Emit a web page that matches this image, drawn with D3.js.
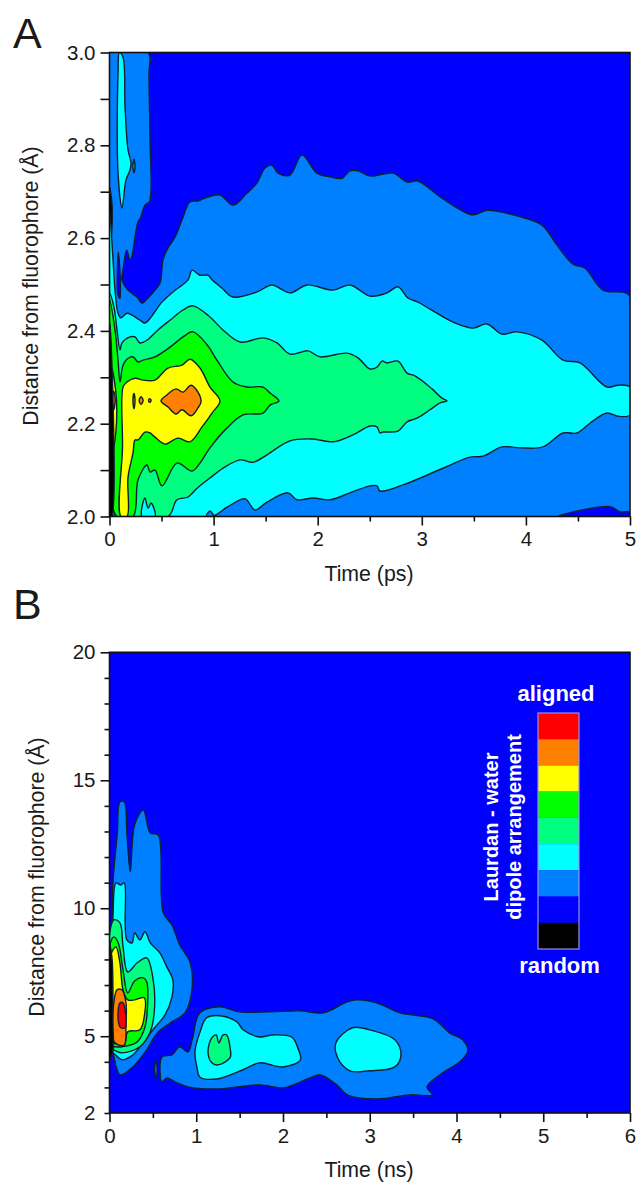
<!DOCTYPE html>
<html>
<head>
<meta charset="utf-8">
<script src="https://cdn.jsdelivr.net/npm/d3@7"></script>
<style>
body { margin: 0; background: #fff; }
text { font-family: "Liberation Sans", Arial, sans-serif; fill: #1a1a1a; }
</style>
</head>
<body>
<div id="chart"></div>
<script>
// colour levels, lowest first
var levels = ['#000000', '#0000ff', '#0080ff', '#00ffff', '#00ff80', '#00ff00', '#ffff00', '#ff8000', '#ff0000']

// panel A contours, [time ps, distance A]
var aBlue = [[0,3],[.37,3],[.379,2.951],[.389,2.811],[.399,2.704],[.382,2.678],[.341,2.671],[.3,2.645],[.274,2.635],[.245,2.602],[.213,2.559],[.197,2.553],[.165,2.574],[.13,2.531],[.12,2.51],[.178,2.488],[.264,2.473],[.312,2.46],[.37,2.471],[.437,2.488],[.485,2.503],[.514,2.553],[.562,2.579],[.629,2.602],[.696,2.639],[.773,2.678],[.85,2.68],[.937,2.688],[1.061,2.693],[1.186,2.671],[1.321,2.697],[1.417,2.719],[1.494,2.751],[1.561,2.757],[1.619,2.74],[1.734,2.736],[1.849,2.779],[1.993,2.74],[2.118,2.732],[2.233,2.729],[2.31,2.745],[2.387,2.745],[2.502,2.734],[2.723,2.74],[2.858,2.721],[2.963,2.723],[3.194,2.686],[3.492,2.65],[3.626,2.66],[3.914,2.648],[4.154,2.628],[4.298,2.585],[4.452,2.544],[4.567,2.535],[4.74,2.488],[5,2.475],[5,2],[0,2]]
var aCorner = [[4.308,2],[4.808,2.021],[4.904,2.01],[5,2.01],[5,2]]
var aSliver = [[.085,2.57],[.105,2.5],[.1,2.47],[.08,2.48],[.075,2.52]]
var aCyan = [[0,2.66],[.034,2.553],[.053,2.488],[.082,2.438],[.11,2.428],[.168,2.438],[.293,2.423],[.341,2.417],[.504,2.462],[.61,2.484],[.754,2.51],[.793,2.531],[.869,2.52],[.946,2.52],[.985,2.51],[1.081,2.492],[1.186,2.473],[1.417,2.484],[1.561,2.499],[1.734,2.482],[1.897,2.499],[2.147,2.488],[2.31,2.499],[2.502,2.475],[2.666,2.482],[2.771,2.495],[2.867,2.471],[2.963,2.462],[3.079,2.447],[3.3,2.419],[3.492,2.406],[3.626,2.415],[3.77,2.393],[3.914,2.398],[4.154,2.38],[4.356,2.337],[4.519,2.331],[4.779,2.279],[4.885,2.283],[5,2.279],[5,2.219],[4.885,2.216],[4.779,2.223],[4.615,2.201],[4.49,2.18],[4.356,2.18],[4.164,2.15],[3.943,2.148],[3.77,2.15],[3.588,2.13],[3.463,2.128],[3.203,2.104],[2.819,2.068],[2.598,2.055],[2.57,2.066],[2.502,2.066],[2.31,2.051],[2.118,2.036],[1.955,2.04],[1.801,2.036],[1.715,2.051],[1.513,2.031],[1.398,2.014],[1.302,2.038],[1.129,2.02],[.985,2],[0,2]]
var aBump = [[.93,2],[.965,2.012],[1,2]]
var aSpring = [[0,2.482],[.043,2.451],[.072,2.402],[.101,2.359],[.12,2.374],[.197,2.387],[.245,2.387],[.293,2.374],[.36,2.38],[.466,2.402],[.581,2.423],[.706,2.445],[.802,2.454],[.965,2.43],[1.09,2.402],[1.254,2.376],[1.475,2.385],[1.609,2.374],[1.734,2.35],[1.907,2.357],[2.022,2.344],[2.281,2.352],[2.387,2.342],[2.502,2.318],[2.57,2.322],[2.618,2.335],[2.666,2.331],[2.771,2.335],[2.858,2.309],[2.935,2.303],[3.098,2.275],[3.194,2.255],[3.242,2.249],[3.175,2.245],[3.079,2.23],[2.954,2.212],[2.858,2.204],[2.771,2.184],[2.627,2.182],[2.598,2.18],[2.57,2.193],[2.502,2.195],[2.339,2.176],[2.147,2.161],[1.955,2.167],[1.734,2.163],[1.513,2.133],[1.379,2.117],[1.254,2.122],[1.09,2.104],[.965,2.083],[.841,2.061],[.754,2.042],[.648,2.036],[.562,2],[.062,2],[0,2.2]]
var aCyanFoot = [[.312,2],[.341,2.04],[.37,2.018],[.399,2.029],[.437,2]]
var aCyanEdge = [[.035,2.12],[.06,2.06],[.07,2],[.03,2]]
var aBlueEdge = [[.04,2.05],[.05,2],[.035,2]]
var aGreen = [[0,2.467],[.053,2.402],[.082,2.337],[.101,2.29],[.13,2.326],[.178,2.341],[.226,2.344],[.274,2.333],[.322,2.337],[.437,2.344],[.581,2.365],[.706,2.387],[.802,2.398],[.937,2.37],[1.032,2.337],[1.186,2.29],[1.321,2.279],[1.475,2.279],[1.542,2.266],[1.628,2.249],[1.542,2.24],[1.475,2.223],[1.283,2.219],[1.129,2.191],[.965,2.148],[.869,2.115],[.793,2.098],[.648,2.115],[.504,2.066],[.437,2.1],[.389,2.096],[.36,2.111],[.274,2.079],[.226,2],[.072,2],[0,2.2]]
var aYellow = [[.13,2.279],[.168,2.29],[.245,2.298],[.322,2.294],[.437,2.294],[.562,2.32],[.696,2.326],[.773,2.339],[.869,2.32],[.965,2.279],[1.061,2.249],[.985,2.223],[.889,2.193],[.773,2.161],[.658,2.169],[.533,2.156],[.437,2.171],[.389,2.18],[.341,2.182],[.274,2.165],[.245,2.165],[.226,2.137],[.178,2.085],[.168,2],[.11,2],[.125,2.15]]
var aYellowEdge = [[.02,2.32],[.06,2.27],[.07,2.23],[.06,2.18],[.03,2.14],[.01,2.2]]
var aOrange = [[.495,2.249],[.552,2.262],[.639,2.275],[.706,2.268],[.783,2.283],[.85,2.268],[.879,2.247],[.85,2.234],[.783,2.217],[.696,2.23],[.639,2.221],[.562,2.236]]
var aOrangeEdge = [[.04,2.27],[.055,2.25],[.04,2.23],[.025,2.25]]
var aDot1 = [[.235,2.265],[.245,2.25],[.235,2.232],[.225,2.25]]
var aDot2 = [[.303,2.258],[.323,2.25],[.303,2.242],[.285,2.25]]
var aDot3 = [[.385,2.254],[.4,2.25],[.385,2.246],[.375,2.25]]
var aSpike = [[.095,3],[.13,2.99],[.149,2.883],[.178,2.79],[.207,2.762],[.197,2.747],[.158,2.725],[.12,2.665],[.082,2.74],[.082,2.956]]
var aSpikeDot = [[.235,2.77],[.245,2.755],[.235,2.74],[.225,2.755]]
var aDarkTop = [[0,2.71],[.025,2.67],[.015,2.6],[0,2.62]]
var aDarkEdge = [[0,2.42],[.02,2.35],[.02,2],[0,2]]

// panel B contours, [time ns, distance A]
var bBlue = [[.025,4.47],[.12,3.49],[.27,3.8],[.43,4.47],[.55,5.13],[.72,5.56],[.87,5.91],[.95,6.81],[.93,7.87],[.81,8.57],[.72,9.35],[.62,9.82],[.56,12.87],[.47,12.94],[.39,13.84],[.29,13.26],[.24,11.42],[.2,12.94],[.17,14.15],[.12,14.15],[.09,12.94],[.04,10.99],[.02,8.1],[0,8.1],[0,4.47]]
var bCyan = [[.04,4.35],[.144,4.08],[.27,4.27],[.41,4.86],[.52,5.33],[.64,5.83],[.72,6.54],[.73,7.2],[.66,7.71],[.58,8.26],[.47,8.65],[.41,9.08],[.35,8.76],[.29,9.04],[.26,8.65],[.2,8.76],[.17,10.99],[.13,10.91],[.075,10.99],[.04,9.66],[.02,8.1],[0,8.1],[0,4.35]]
var bSpring = [[.04,4.47],[.144,4.35],[.35,4.59],[.47,5.17],[.52,6.15],[.5,7.28],[.43,8.06],[.32,7.87],[.21,7.51],[.156,8.49],[.12,9.43],[.05,9.55],[0,9],[0,4.47]]
var bGreen = [[.04,4.59],[.144,4.59],[.32,4.78],[.41,5.37],[.44,6.3],[.43,7.12],[.39,7.28],[.29,7.16],[.21,6.69],[.156,7.59],[.1,8.65],[.05,8.88],[0,8.5],[0,4.6]]
var bYellow = [[.04,4.74],[.17,4.66],[.21,5.17],[.35,5.25],[.4,5.76],[.4,6.5],[.29,6.42],[.21,6.42],[.156,6.81],[.12,7.87],[.075,8.49],[.04,8.37],[0,8],[0,4.8]]
var bOrange = [[.1,4.66],[.17,4.66],[.19,5.52],[.19,6.3],[.144,6.81],[.086,6.81],[.05,6.3],[.03,5.52],[.04,4.86]]
var bRed = [[.12,6.3],[.156,6.3],[.19,5.52],[.18,5.33],[.13,5.33],[.1,5.63]]
var bDarkEdge = [[0,8.6],[.03,8],[.04,5.5],[.04,4.4],[0,4.1]]
var bBlue2 = [[.605,4.19],[.72,4.27],[.81,4.59],[.905,4.39],[.96,4.97],[1.04,5.91],[1.27,6.15],[1.5,5.95],[1.82,5.95],[2.2,5.99],[2.46,5.91],[2.74,6.34],[2.85,6.42],[3.08,6.3],[3.35,5.91],[3.73,5.68],[3.92,5.13],[4.07,4.86],[4.13,4.43],[4.04,4],[3.84,3.57],[3.66,3.02],[3.72,2.71],[3.46,2.71],[3.08,2.55],[2.74,2.71],[2.62,3.1],[2.43,3.49],[2.31,3.37],[2.12,3.1],[2,2.98],[1.73,3.1],[1.24,2.94],[.905,3.02],[.755,3.22],[.66,3.37],[.605,3.22]]
var bSliver = [[.535,4.05],[.55,3.7],[.535,3.35],[.52,3.7]]
var bCyan2 = [[1.04,3.41],[1.24,3.33],[1.54,3.69],[1.73,3.96],[2,3.8],[2.2,4.08],[2.17,4.55],[2.1,4.97],[1.88,5.05],[1.73,4.97],[1.54,5.25],[1.47,5.56],[1.27,5.8],[1.12,5.72],[1.04,5.13],[.985,4.39],[1.01,3.76]]
var bSpring2 = [[1.18,3.96],[1.25,3.88],[1.39,4.16],[1.39,4.55],[1.35,5.05],[1.31,5.05],[1.26,4.74],[1.23,5.05],[1.18,4.94],[1.135,4.39]]
var bCyan3 = [[2.8,5.33],[3,5.25],[3.29,4.86],[3.36,4.27],[3.29,3.8],[3,3.65],[2.77,3.65],[2.63,4.16],[2.61,4.74]]

// tick values
var aTimeMajor = [0, 1, 2, 3, 4, 5]
var aTimeMinor = [.5, 1.5, 2.5, 3.5, 4.5]
var aDistMajor = [2.0, 2.2, 2.4, 2.6, 2.8, 3.0]
var aDistMinor = [2.1, 2.3, 2.5, 2.7, 2.9]
var bTimeMajor = [0, 1, 2, 3, 4, 5, 6]
var bTimeMinor = [.5, 1.5, 2.5, 3.5, 4.5, 5.5]
var bDistMajor = [5, 10, 15, 20]
var bDistMinor = [2, 3, 4, 6, 7, 8, 9, 11, 12, 13, 14, 16, 17, 18, 19]

var legendLabels = d3.range(levels.length).reverse()

var w = 637, h = 1185
var svg = d3.select('#chart').append('svg')
    .attr('width', w)
    .attr('height', h)
    .style('display', 'block')

function panel(id, top, bottom, xdom, ydom, t, shapes, ticks, label, labelY, xlabel, ylabelX, ylabelY) {
    var x = d3.scaleLinear().domain(xdom).range([109.5, 630])
    var y = d3.scaleLinear().domain(ydom).range([bottom, top])
    var line = d3.line().x(d => x(d[0])).y(d => y(d[1])).curve(d3.curveCatmullRomClosed.alpha(0.5))

    svg.append('clipPath').attr('id', id)
        .append('rect')
        .attr('x', 109.5).attr('y', top)
        .attr('width', 520.5).attr('height', bottom - top)

    var g = svg.append('g')
    g.append('rect')
        .attr('x', 109.5).attr('y', top)
        .attr('width', 520.5).attr('height', bottom - top)
        .attr('fill', levels[1])

    g.append('g').attr('clip-path', `url(#${id})`)
        .selectAll('path')
        .data(shapes)
        .enter()
        .append('path')
        .attr('d', d => line(d[0]))
        .attr('fill', d => levels[d[1]])
        .attr('stroke', '#0c2030')
        .attr('stroke-width', 1.4)
        .attr('stroke-linejoin', 'round')

    // frame
    g.append('rect')
        .attr('x', 109.5).attr('y', top)
        .attr('width', 520.5).attr('height', bottom - top)
        .attr('fill', 'none')
        .attr('stroke', '#111')
        .attr('stroke-width', 1.6)

    // axis
    var axes = [
        [d3.axisBottom(x).tickValues(ticks[0]).tickSize(9).tickPadding(6).tickFormat(d3.format('d')), `translate(0,${bottom})`],
        [d3.axisBottom(x).tickValues(ticks[1]).tickSize(5).tickFormat(''), `translate(0,${bottom})`],
        [d3.axisLeft(y).tickValues(ticks[2]).tickSize(ticks[4]).tickPadding(5).tickFormat(t), 'translate(109.5,0)'],
        [d3.axisLeft(y).tickValues(ticks[3]).tickSize(ticks[5]).tickPadding(14 - ticks[5]).tickFormat(d => ticks[6].includes(d) ? d : ''), 'translate(109.5,0)']
    ]
    axes.forEach(a => {
        var ag = svg.append('g').attr('transform', a[1]).call(a[0])
        ag.select('.domain').remove()
        ag.selectAll('line').attr('stroke', '#111').attr('stroke-width', 1.6)
        ag.selectAll('text').style('font-size', '20.5px').attr('fill', '#1a1a1a')
    })

    svg.append('text').text(label)
        .attr('x', 13).attr('y', labelY)
        .style('font-size', '43px')

    svg.append('text').text(xlabel)
        .attr('x', 369).attr('y', bottom + 64)
        .attr('text-anchor', 'middle')
        .style('font-size', '21.3px')

    svg.append('text').text('Distance from fluorophore (\u00c5)')
        .attr('transform', `translate(${ylabelX},${ylabelY}) rotate(-90)`)
        .attr('text-anchor', 'middle')
        .style('font-size', '21.3px')
}

panel('clipa', 52.5, 516.5, [0, 5], [2, 3], d3.format('.1f'), [
    [aBlue, 2], [aCorner, 1], [aSliver, 1], [aSpike, 3], [aSpikeDot, 3], [aDarkTop, 0],
    [aCyan, 3], [aBump, 2], [aSpring, 4], [aCyanFoot, 3], [aCyanEdge, 3], [aBlueEdge, 2],
    [aGreen, 5], [aYellow, 6], [aYellowEdge, 6], [aOrange, 7], [aOrangeEdge, 7],
    [aDot1, 7], [aDot2, 7], [aDot3, 7], [aDarkEdge, 0]
], [aTimeMajor, aTimeMinor, aDistMajor, aDistMinor, 9, 9, []], 'A', 48, 'Time (ps)', 38, 286)

panel('clipb', 652.3, 1113, [0, 6], [2, 20], d3.format('d'), [
    [bBlue, 2], [bCyan, 3], [bSpring, 4], [bGreen, 5], [bYellow, 6], [bOrange, 7], [bRed, 8], [bDarkEdge, 0],
    [bBlue2, 2], [bSliver, 2], [bCyan2, 3], [bSpring2, 4], [bCyan3, 3]
], [bTimeMajor, bTimeMinor, bDistMajor, bDistMinor, 9, 5, [2]], 'B', 619, 'Time (ns)', 44, 877)

// legend
var band = d3.scaleBand().domain(legendLabels).range([713, 949])
svg.append('g').selectAll('rect')
    .data(legendLabels)
    .enter()
    .append('rect')
    .attr('x', 538)
    .attr('y', d => band(d))
    .attr('width', 41)
    .attr('height', band.bandwidth())
    .attr('fill', d => levels[d])

svg.append('rect')
    .attr('x', 538).attr('y', 713)
    .attr('width', 41).attr('height', 236)
    .attr('fill', 'none')
    .attr('stroke', '#9a90e8')
    .attr('stroke-width', 1.2)

function whiteText(s, x, y, rot, size) {
    svg.append('text').text(s)
        .attr('transform', `translate(${x},${y}) rotate(${rot})`)
        .attr('text-anchor', 'middle')
        .style('font-size', size + 'px')
        .style('font-weight', 'bold')
        .style('fill', '#fff')
}
whiteText('aligned', 556, 701, 0, 22)
whiteText('random', 559.5, 973, 0, 22)
whiteText('Laurdan - water', 498, 827, -90, 20)
whiteText('dipole arrangement', 521, 827, -90, 20)
</script>
</body>
</html>
